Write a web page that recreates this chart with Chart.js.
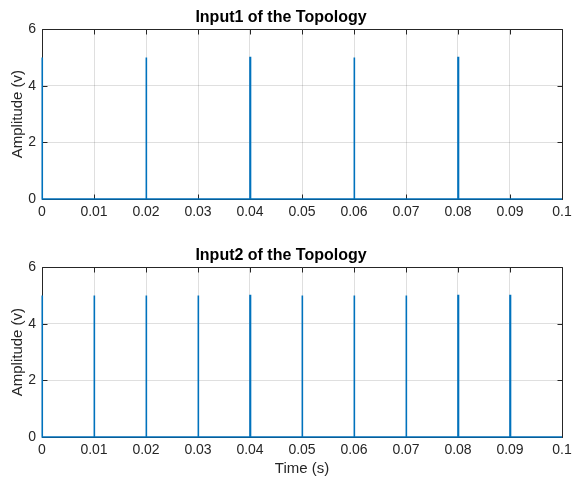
<!DOCTYPE html>
<html>
<head>
<meta charset="utf-8">
<script src="https://cdn.jsdelivr.net/npm/chart.js@4.4.1/dist/chart.umd.min.js"></script>
<style>
  html, body { margin: 0; padding: 0; background: #fff; }
  body { width: 572px; height: 482px; position: relative; overflow: hidden; }
  .wrap { position: absolute; left: 0; width: 572px; }
  #w1 { top: 0; height: 241px; }
  #w2 { top: 238px; height: 244px; }
</style>
</head>
<body>
<div class="wrap" id="w1"><canvas id="c1" width="572" height="241"></canvas></div>
<div class="wrap" id="w2"><canvas id="c2" width="572" height="244"></canvas></div>
<script>
// ---- data ----
const chartTitles = ["Input1 of the Topology", "Input2 of the Topology"];
const xAxisLabel = "Time (s)";
const yAxisLabel = "Amplitude (v)";
const timeStart = 0;
const timeEnd = 0.1;
const timeStep = 0.01;
const ampMin = 0;
const ampMax = 6;
const ampStep = 2;
const input1PulseTimes = [0, 0.02, 0.04, 0.06, 0.08];
const input2PulseTimes = [0, 0.01, 0.02, 0.03, 0.04, 0.05, 0.06, 0.07, 0.08, 0.09];
const pulseAmplitude = 5;
const pulseWidth = 0.0001;

function pulseSeries(times) {
  const pts = [{x: timeStart, y: 0}];
  times.forEach(t => {
    pts.push({x: t, y: 0});
    pts.push({x: t, y: pulseAmplitude});
    pts.push({x: t + pulseWidth, y: pulseAmplitude});
    pts.push({x: t + pulseWidth, y: 0});
  });
  pts.push({x: timeEnd, y: 0});
  return pts;
}

const AXIS_COLOR = '#262626';
const FONT = '"Liberation Sans", Arial, Helvetica, sans-serif';

const boxPlugin = {
  id: 'matlabBox',
  beforeDatasetsDraw(chart) {
    const {ctx, chartArea: a, scales: {x, y}} = chart;
    ctx.save();
    ctx.strokeStyle = AXIS_COLOR;
    ctx.lineWidth = 1;
    ctx.beginPath();
    const L = Math.round(a.left) + 0.5, R = Math.round(a.right) + 0.5;
    const T = Math.round(a.top) + 0.5, B = Math.round(a.bottom) + 0.5;
    ctx.rect(L, T, R - L, B - T);
    const tl = 5;
    x.ticks.forEach(tk => {
      const px = Math.round(x.getPixelForValue(tk.value)) + 0.5;
      ctx.moveTo(px, B); ctx.lineTo(px, B - tl);
      ctx.moveTo(px, T); ctx.lineTo(px, T + tl);
    });
    y.ticks.forEach(tk => {
      const py = Math.round(y.getPixelForValue(tk.value)) + 0.5;
      ctx.moveTo(L, py); ctx.lineTo(L + tl, py);
      ctx.moveTo(R, py); ctx.lineTo(R - tl, py);
    });
    ctx.stroke();
    ctx.restore();
  }
};

function makeChart(id, title, times, showXTitle, canvasH) {
  const areaBottom = 199;
  return new Chart(document.getElementById(id), {
    type: 'line',
    data: {
      datasets: [{
        data: pulseSeries(times),
        borderColor: '#0072BD',
        borderWidth: 1.6,
        pointRadius: 0,
        fill: false,
        tension: 0,
        clip: false
      }]
    },
    options: {
      responsive: false,
      animation: false,
      events: [],
      layout: { padding: { left: 0, right: 10, top: 0, bottom: 0 } },
      plugins: {
        legend: { display: false },
        tooltip: { enabled: false },
        title: {
          display: true,
          text: title,
          color: '#000',
          font: { family: FONT, size: 16, weight: 'bold' },
          padding: { top: 8, bottom: 2 }
        }
      },
      scales: {
        x: {
          type: 'linear',
          min: timeStart, max: timeEnd,
          afterFit(s) { s.height = canvasH - areaBottom; s.paddingRight = 0; s.paddingLeft = 0; },
          ticks: {
            stepSize: timeStep,
            color: AXIS_COLOR,
            font: { family: FONT, size: 14 },
            padding: 5,
            maxRotation: 0,
            callback: v => String(parseFloat(v.toFixed(2)))
          },
          grid: { color: 'rgba(38,38,38,0.15)', drawTicks: false },
          border: { display: false },
          title: {
            display: showXTitle,
            text: xAxisLabel,
            color: AXIS_COLOR,
            font: { family: FONT, size: 15 },
            padding: { top: 0, bottom: 4 }
          }
        },
        y: {
          type: 'linear',
          min: ampMin, max: ampMax,
          afterFit(s) { s.width = 42; },
          ticks: {
            stepSize: ampStep,
            color: AXIS_COLOR,
            font: { family: FONT, size: 14 },
            padding: 6
          },
          grid: { color: 'rgba(38,38,38,0.15)', drawTicks: false },
          border: { display: false },
          title: {
            display: true,
            text: yAxisLabel,
            color: AXIS_COLOR,
            font: { family: FONT, size: 15 },
            padding: { top: 9, bottom: 0 }
          }
        }
      }
    },
    plugins: [boxPlugin]
  });
}

makeChart('c1', chartTitles[0], input1PulseTimes, false, 241);
makeChart('c2', chartTitles[1], input2PulseTimes, true, 244);
</script>
</body>
</html>
